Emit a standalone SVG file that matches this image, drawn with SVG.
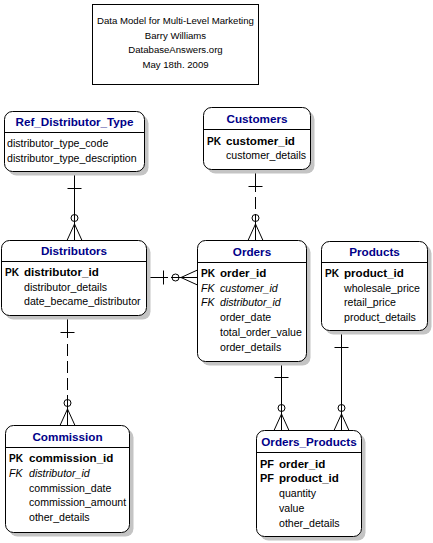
<svg xmlns="http://www.w3.org/2000/svg" width="433" height="543" viewBox="0 0 433 543">
<style>
.bg{fill:#fff}
.box{fill:#fff;stroke:#000;stroke-width:1}
.sh{fill:#c4c4c4}
.sep{stroke:#000;stroke-width:1}
.ttl{font-family:"Liberation Sans",Arial,sans-serif;font-size:11.7px;font-weight:bold;fill:#000088;text-anchor:middle}
.hdr{font-family:"Liberation Sans",Arial,sans-serif;font-size:9.6px;fill:#000;text-anchor:middle}
.pk{font-family:"Liberation Sans",Arial,sans-serif;font-size:11.6px;font-weight:bold;fill:#000}
.f{font-family:"Liberation Sans",Arial,sans-serif;font-size:10.6px;fill:#000}
.fk{font-family:"Liberation Sans",Arial,sans-serif;font-size:10.6px;font-style:italic;fill:#000}
#connectors line,#connectors circle{stroke:#000;stroke-width:1;fill:none}
#connectors .d{stroke-dasharray:12,5}
</style>
<rect class="bg" x="0" y="0" width="433" height="543"/>

<g id="title-box">
<rect x="92.5" y="4.5" width="166" height="80" fill="#fff" stroke="#000"/>
<text class="hdr" x="175.5" y="24">Data Model for Multi-Level Marketing</text>
<text class="hdr" x="175.5" y="38.7">Barry Williams</text>
<text class="hdr" x="175.5" y="53.3">DatabaseAnswers.org</text>
<text class="hdr" x="175.5" y="68">May 18th. 2009</text>
</g>

<g id="connectors">
<!-- Ref_Distributor_Type -> Distributors -->
<line x1="74.5" y1="171.5" x2="74.5" y2="240.5"/>
<line x1="67.5" y1="188.5" x2="81.5" y2="188.5"/>
<circle cx="74.5" cy="218" r="3.5"/>
<line x1="74.5" y1="224" x2="67" y2="240.5"/>
<line x1="74.5" y1="224" x2="82" y2="240.5"/>
<!-- Customers -> Orders -->
<line x1="255.5" y1="169.5" x2="255.5" y2="192"/>
<line class="d" x1="255.5" y1="197" x2="255.5" y2="214"/>
<line x1="255.5" y1="214" x2="255.5" y2="240.5"/>
<line x1="248.5" y1="186.5" x2="262.5" y2="186.5"/>
<circle cx="255.5" cy="218" r="3.5"/>
<line x1="255.5" y1="224" x2="248" y2="240.5"/>
<line x1="255.5" y1="224" x2="263" y2="240.5"/>
<!-- Distributors -> Orders -->
<line x1="146.5" y1="277.5" x2="168" y2="277.5"/>
<line x1="171" y1="277.5" x2="197.5" y2="277.5"/>
<line x1="163.5" y1="270.5" x2="163.5" y2="284.5"/>
<circle cx="175.5" cy="277.5" r="3.5"/>
<line x1="181" y1="277.5" x2="197.5" y2="270"/>
<line x1="181" y1="277.5" x2="197.5" y2="285"/>
<!-- Distributors -> Commission -->
<line x1="67.5" y1="315.5" x2="67.5" y2="338"/>
<line class="d" x1="67.5" y1="344" x2="67.5" y2="397"/>
<line x1="67.5" y1="397" x2="67.5" y2="425.5"/>
<line x1="60.5" y1="332.5" x2="74.5" y2="332.5"/>
<circle cx="67.5" cy="403" r="3.5"/>
<line x1="67.5" y1="409" x2="60" y2="425.5"/>
<line x1="67.5" y1="409" x2="75" y2="425.5"/>
<!-- Orders -> Orders_Products -->
<line x1="281.5" y1="361.5" x2="281.5" y2="430.5"/>
<line x1="274.5" y1="377.5" x2="288.5" y2="377.5"/>
<circle cx="281.5" cy="408" r="3.5"/>
<line x1="281.5" y1="414" x2="274" y2="430.5"/>
<line x1="281.5" y1="414" x2="289" y2="430.5"/>
<!-- Products -> Orders_Products -->
<line x1="341.5" y1="330.5" x2="341.5" y2="430.5"/>
<line x1="334.5" y1="347.5" x2="348.5" y2="347.5"/>
<circle cx="341.5" cy="408" r="3.5"/>
<line x1="341.5" y1="414" x2="334" y2="430.5"/>
<line x1="341.5" y1="414" x2="349" y2="430.5"/>
</g>

<g id="Ref_Distributor_Type">
<rect class="sh" x="8.5" y="115.5" width="140" height="60" rx="8"/>
<rect class="box" x="4.5" y="111.5" width="140" height="60" rx="8"/>
<line class="sep" x1="4.5" y1="132.5" x2="144.5" y2="132.5"/>
<text class="ttl" x="74.5" y="126">Ref_Distributor_Type</text>
<text class="f" x="7" y="147">distributor_type_code</text>
<text class="f" x="7" y="162">distributor_type_description</text>
</g>

<g id="Customers">
<rect class="sh" x="207.5" y="111.5" width="107" height="62" rx="8"/>
<rect class="box" x="203.5" y="107.5" width="107" height="62" rx="8"/>
<line class="sep" x1="203.5" y1="129.5" x2="310.5" y2="129.5"/>
<text class="ttl" x="257" y="122.5">Customers</text>
<text class="pk" x="207" y="144.5" textLength="14" lengthAdjust="spacingAndGlyphs">PK</text>
<text class="pk" x="226" y="144.5">customer_id</text>
<text class="f" x="226" y="159">customer_details</text>
</g>

<g id="Distributors">
<rect class="sh" x="5.5" y="244.5" width="145" height="75" rx="8"/>
<rect class="box" x="1.5" y="240.5" width="145" height="75" rx="8"/>
<line class="sep" x1="1.5" y1="261.5" x2="146.5" y2="261.5"/>
<text class="ttl" x="74" y="255">Distributors</text>
<text class="pk" x="5" y="276" textLength="14" lengthAdjust="spacingAndGlyphs">PK</text>
<text class="pk" x="24" y="276">distributor_id</text>
<text class="f" x="24" y="290.7">distributor_details</text>
<text class="f" x="24" y="305.4">date_became_distributor</text>
</g>

<g id="Orders">
<rect class="sh" x="201.5" y="244.5" width="109" height="121" rx="8"/>
<rect class="box" x="197.5" y="240.5" width="109" height="121" rx="8"/>
<line class="sep" x1="197.5" y1="262.5" x2="306.5" y2="262.5"/>
<text class="ttl" x="252" y="256">Orders</text>
<text class="pk" x="201" y="277" textLength="14" lengthAdjust="spacingAndGlyphs">PK</text>
<text class="pk" x="220" y="277">order_id</text>
<text class="fk" x="201" y="291.7">FK</text>
<text class="fk" x="220" y="291.7">customer_id</text>
<text class="fk" x="201" y="306.4">FK</text>
<text class="fk" x="220" y="306.4">distributor_id</text>
<text class="f" x="220" y="321.1">order_date</text>
<text class="f" x="220" y="335.8">total_order_value</text>
<text class="f" x="220" y="350.5">order_details</text>
</g>

<g id="Products">
<rect class="sh" x="325.5" y="245.5" width="106" height="89" rx="8"/>
<rect class="box" x="321.5" y="241.5" width="106" height="89" rx="8"/>
<line class="sep" x1="321.5" y1="262.5" x2="427.5" y2="262.5"/>
<text class="ttl" x="374.5" y="256">Products</text>
<text class="pk" x="325" y="277" textLength="14" lengthAdjust="spacingAndGlyphs">PK</text>
<text class="pk" x="344" y="277">product_id</text>
<text class="f" x="344" y="291.7">wholesale_price</text>
<text class="f" x="344" y="306.4">retail_price</text>
<text class="f" x="344" y="321.1">product_details</text>
</g>

<g id="Commission">
<rect class="sh" x="9.5" y="429.5" width="124" height="107" rx="8"/>
<rect class="box" x="5.5" y="425.5" width="124" height="107" rx="8"/>
<line class="sep" x1="5.5" y1="447.5" x2="129.5" y2="447.5"/>
<text class="ttl" x="67.5" y="441">Commission</text>
<text class="pk" x="9" y="462" textLength="14" lengthAdjust="spacingAndGlyphs">PK</text>
<text class="pk" x="29" y="462">commission_id</text>
<text class="fk" x="9" y="476.8">FK</text>
<text class="fk" x="29" y="476.8">distributor_id</text>
<text class="f" x="29" y="491.6">commission_date</text>
<text class="f" x="29" y="506.4">commission_amount</text>
<text class="f" x="29" y="521.2">other_details</text>
</g>

<g id="Orders_Products">
<rect class="sh" x="260.5" y="434.5" width="105" height="106" rx="8"/>
<rect class="box" x="256.5" y="430.5" width="105" height="106" rx="8"/>
<line class="sep" x1="256.5" y1="452.5" x2="361.5" y2="452.5"/>
<text class="ttl" x="309" y="445.5">Orders_Products</text>
<text class="pk" x="260" y="467.5" textLength="14" lengthAdjust="spacingAndGlyphs">PF</text>
<text class="pk" x="279" y="467.5">order_id</text>
<text class="pk" x="260" y="482.3" textLength="14" lengthAdjust="spacingAndGlyphs">PF</text>
<text class="pk" x="279" y="482.3">product_id</text>
<text class="f" x="279" y="497.1">quantity</text>
<text class="f" x="279" y="511.9">value</text>
<text class="f" x="279" y="526.7">other_details</text>
</g>
</svg>
